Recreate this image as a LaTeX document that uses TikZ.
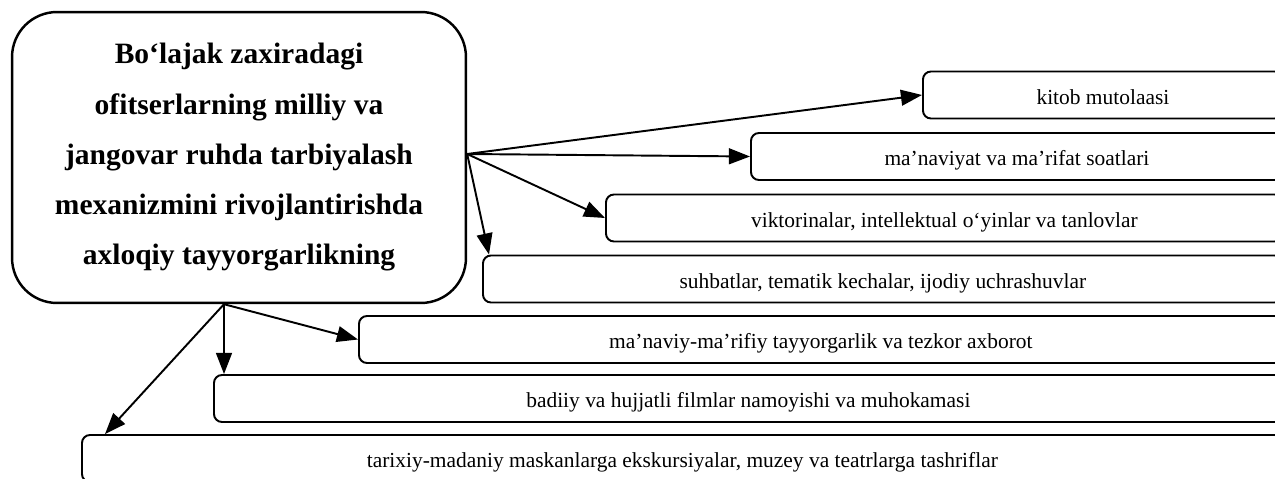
\documentclass[tikz,border=0pt]{standalone}
\usepackage{fontspec}
\setmainfont{Liberation Serif}
\usetikzlibrary{arrows.meta}
\tikzset{
  bigbox/.style={draw, line width=1.4pt, rounded corners=0.9cm, minimum width=9.08cm, minimum height=5.82cm, align=center, font=\fontsize{16.8}{28.6}\selectfont\bfseries},
  itembox/.style={draw, line width=1.1pt, rounded corners=0.16cm, minimum height=0.94cm, anchor=west, text height=11.5pt, text depth=0.7pt, font=\fontsize{12.2}{14}\selectfont},
  arr/.style={line width=1.1pt, -{Triangle[length=12pt,width=9pt]}}
}
\begin{document}
\begin{tikzpicture}[x=0.02cm, y=-0.02cm]
      \useasboundingbox (0,0) rectangle (1275,479);
      \clip (0,0) rectangle (1275,479);
      \node[bigbox] (main) at (239,157.5){Bo‘lajak zaxiradagi\\ofitserlarning milliy va\\jangovar ruhda tarbiyalash\\mexanizmini rivojlantirishda\\axloqiy tayyorgarlikning};
      \node[itembox, minimum width=7.2cm] (kitob) at (922,95){kitob mutolaasi};
      \node[itembox, minimum width=10.64cm] (soat) at (750,156.5){ma’naviyat va ma’rifat soatlari};
      \node[itembox, minimum width=13.54cm] (viktorina) at (605,218){viktorinalar, intellektual o‘yinlar va tanlovlar};
      \node[itembox, minimum width=16cm] (suhbat) at (482,279){suhbatlar, tematik kechalar, ijodiy uchrashuvlar};
      \node[itembox, minimum width=18.48cm] (tezkor) at (358,339.5){ma’naviy-ma’rifiy tayyorgarlik va tezkor axborot};
      \node[itembox, minimum width=21.38cm] (film) at (213,398.5){badiiy va hujjatli filmlar namoyishi va muhokamasi};
      \node[itembox, minimum width=24.02cm] (tashrif) at (81,458.5){tarixiy-madaniy maskanlarga ekskursiyalar, muzey va teatrlarga tashriflar};
      \coordinate (hubE) at ([yshift=0.07cm]main.east);
      \coordinate (hubS) at ([xshift=-0.3cm]main.south);
      \draw[arr] (hubE) to (kitob.west);
      \draw[arr] (hubE) to (soat.west);
      \draw[arr] (hubE) to (viktorina.west);
      \draw[arr] (hubE) to ([xshift=0.14cm]suhbat.north west);
      \draw[arr] (hubS) to (tezkor.west);
      \draw[arr] (hubS) to (hubS |- film.north);
      \draw[arr] (hubS) to ([xshift=0.48cm]tashrif.north west);
    \end{tikzpicture}
\end{document}
